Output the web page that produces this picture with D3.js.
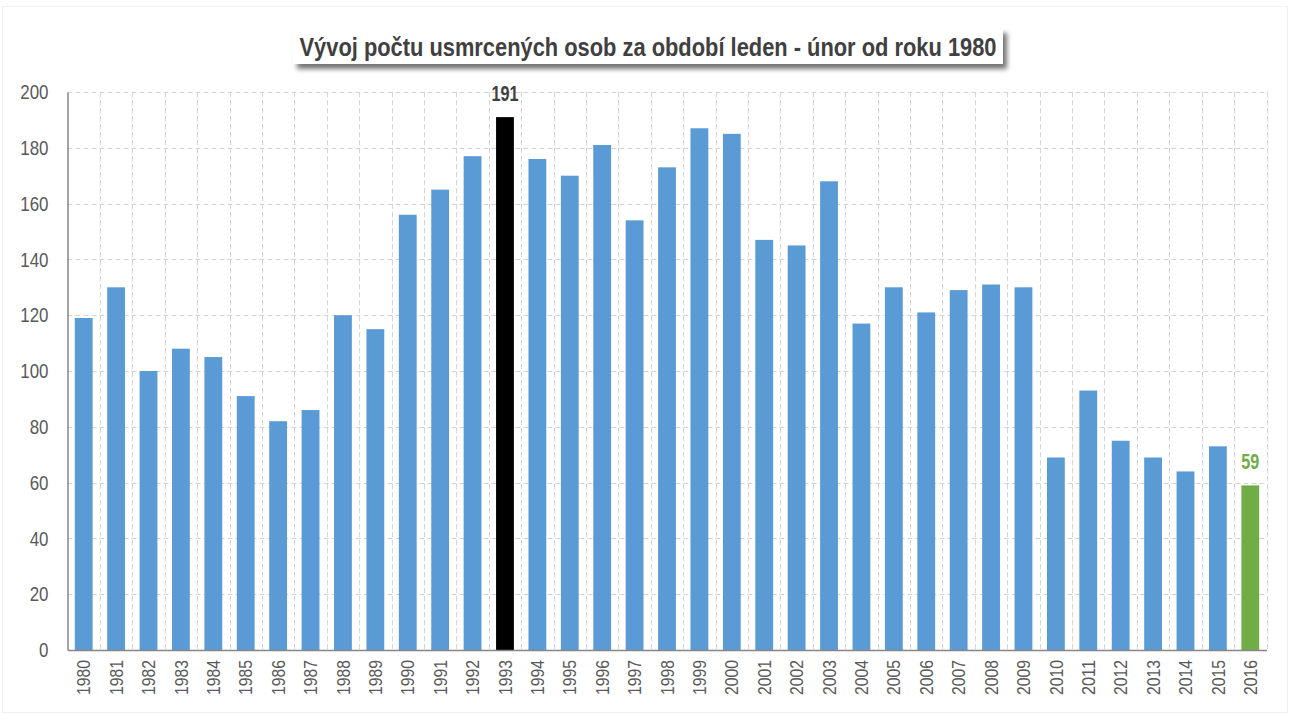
<!DOCTYPE html>
<html>
<head>
<meta charset="utf-8">
<script src="https://cdn.jsdelivr.net/npm/d3@7"></script>
<style>
  body { margin: 0; background: #fff; }
  svg { display: block; }
  text { font-family: "Liberation Sans", Arial, sans-serif; }
</style>
</head>
<body>
<svg id="chart" width="1290" height="715"></svg>
<script>
// data
var years = ["1980","1981","1982","1983","1984","1985","1986","1987","1988","1989",
             "1990","1991","1992","1993","1994","1995","1996","1997","1998","1999",
             "2000","2001","2002","2003","2004","2005","2006","2007","2008","2009",
             "2010","2011","2012","2013","2014","2015","2016"];
var deaths = [119,130,100,108,105,91,82,86,120,115,
              156,165,177,191,176,170,181,154,173,187,
              185,147,145,168,117,130,121,129,131,130,
              69,93,75,69,64,73,59];
var yTicks = [0,20,40,60,80,100,120,140,160,180,200];
var title = "Vývoj počtu usmrcených osob za období leden - únor od roku 1980";
var maxYear = "1993", lastYear = "2016";

drawChart();

function drawChart(){
  var svg = d3.select("#chart");

  var plotLeft = 67.5, plotRight = 1266.5, plotTop = 92, plotBottom = 650;

  // faint outer frame
  svg.append("rect")
    .attr("x", 2.5).attr("y", 6.5).attr("width", 1285).attr("height", 706)
    .attr("fill", "none").attr("stroke", "#f0f0f0");

  // scales
  var x = d3.scaleBand().domain(years).range([plotLeft, plotRight]).paddingInner(0.45).paddingOuter(0.225);
  var y = d3.scaleLinear().domain([0, 200]).range([plotBottom, plotTop]);

  // title box with shadow
  var defs = svg.append("defs");
  var f = defs.append("filter").attr("id", "shadow").attr("x", "-5%").attr("y", "-50%").attr("width", "110%").attr("height", "200%");
  f.append("feGaussianBlur").attr("in", "SourceAlpha").attr("stdDeviation", 2.5);
  f.append("feOffset").attr("dx", 4).attr("dy", 5);
  f.append("feComponentTransfer").append("feFuncA").attr("type", "linear").attr("slope", 0.55);
  var m = f.append("feMerge");
  m.append("feMergeNode");
  m.append("feMergeNode").attr("in", "SourceGraphic");

  svg.append("rect")
    .attr("x", 293).attr("y", 28).attr("width", 710).attr("height", 36)
    .attr("fill", "#fff").attr("filter", "url(#shadow)");
  svg.append("text")
    .attr("x", 648).attr("y", 56)
    .attr("text-anchor", "middle")
    .attr("font-size", 26).attr("font-weight", "bold")
    .attr("fill", "#404040")
    .attr("textLength", 697).attr("lengthAdjust", "spacingAndGlyphs")
    .text(title);

  // horizontal grid
  svg.append("g").selectAll("line").data(yTicks.filter(function(d){ return d > 0; }))
    .enter().append("line")
    .attr("x1", plotLeft).attr("x2", plotRight)
    .attr("y1", function(d){ return Math.round(y(d)) + 0.5; })
    .attr("y2", function(d){ return Math.round(y(d)) + 0.5; })
    .attr("stroke", "#d4d4d4").attr("stroke-dasharray", "5,3");

  // vertical grid at band boundaries
  var step = x.step(), outer = x.paddingOuter() * step;
  svg.append("g").selectAll("line").data(years)
    .enter().append("line")
    .attr("x1", function(d){ return Math.round(x(d) - outer + step) + 0.5; })
    .attr("x2", function(d){ return Math.round(x(d) - outer + step) + 0.5; })
    .attr("y1", plotTop).attr("y2", plotBottom)
    .attr("stroke", "#d4d4d4").attr("stroke-dasharray", "5,3");

  // bars
  svg.append("g").selectAll("rect").data(years)
    .enter().append("rect")
    .attr("x", function(d){ return x(d); })
    .attr("width", x.bandwidth())
    .attr("y", function(d, i){ return y(deaths[i]); })
    .attr("height", function(d, i){ return y(0) - y(deaths[i]); })
    .attr("fill", function(d){ return d === maxYear ? "#000000" : d === lastYear ? "#70ad47" : "#5b9bd5"; });

  // labels on highlighted bars
  [maxYear, lastYear].forEach(function(yr){
    var i = years.indexOf(yr);
    var label = String(deaths[i]);
    svg.append("text")
      .attr("x", x(yr) + x.bandwidth() / 2)
      .attr("y", y(deaths[i]) - 16)
      .attr("text-anchor", "middle")
      .attr("font-size", 22).attr("font-weight", "bold")
      .attr("fill", yr === maxYear ? "#404040" : "#70ad47")
      .attr("textLength", label.length * 9).attr("lengthAdjust", "spacingAndGlyphs")
      .text(label);
  });

  // y axis
  var yAxis = d3.axisLeft(y).tickValues(yTicks).tickSize(0).tickPadding(19);
  var gy = svg.append("g").attr("transform", "translate(" + plotLeft + ",0)").call(yAxis);
  gy.select(".domain").attr("stroke", "#868686").attr("stroke-width", 1.5);
  gy.selectAll("text")
    .attr("font-size", 21).attr("fill", "#595959")
    .attr("font-family", "'Liberation Sans', Arial, sans-serif")
    .attr("textLength", function(d){ return String(d).length * 9.4; })
    .attr("lengthAdjust", "spacingAndGlyphs");

  // x axis
  var xAxis = d3.axisBottom(x).tickSize(0).tickPadding(0);
  var gx = svg.append("g").attr("transform", "translate(0," + plotBottom + ")").call(xAxis);
  gx.select(".domain").attr("stroke", "#868686").attr("stroke-width", 1.5);
  gx.selectAll("text")
    .attr("font-size", 19).attr("fill", "#595959")
    .attr("font-family", "'Liberation Sans', Arial, sans-serif")
    .attr("text-anchor", "end")
    .attr("dy", "0.35em")
    .attr("transform", "translate(0,10) rotate(-90)")
    .attr("x", 0).attr("y", 0)
    .attr("textLength", 35).attr("lengthAdjust", "spacingAndGlyphs");
}
</script>
</body>
</html>
